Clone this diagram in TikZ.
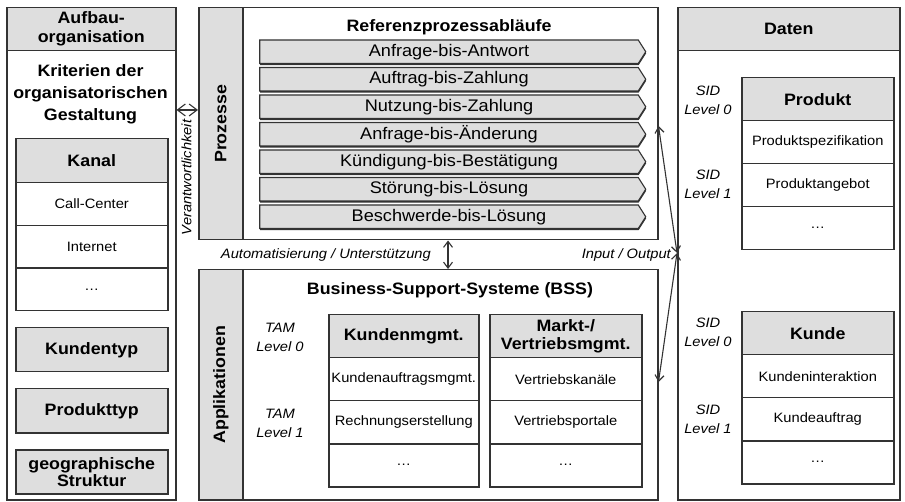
\documentclass[tikz,border=0pt]{standalone}
\usepackage{fontspec}
\setmainfont{Liberation Sans}[FakeStretch=1.08]
\usetikzlibrary{arrows.meta,shapes.symbols,shadows}
\definecolor{hd}{HTML}{DEDEDE}
\definecolor{ln}{HTML}{333333}
\newcommand\fBig{\fontsize{16.5}{20}\selectfont\bfseries}
\newcommand\fBar{\fontsize{16.8}{20}\selectfont}
\newcommand\fSm{\fontsize{13.6}{16}\selectfont}
\newcommand\fIt{\fontsize{13.6}{19}\selectfont\itshape}
\tikzset{
  box/.style={draw=ln, line width=1.5pt, inner sep=0pt, anchor=north west, align=center},
  hbox/.style={box, fill=hd, font=\fBig},
  cell/.style={box, fill=white, font=\fSm, minimum width=152pt, minimum height=43pt},
  hcell/.style={box, fill=hd, font=\fBig, minimum width=152pt, minimum height=43pt},
  bar/.style={shape=signal, signal to=east, signal from=nowhere, signal pointer angle=115,
    draw=ln, line width=1.1pt, fill=hd, minimum width=386pt, minimum height=23.5pt,
    inner sep=0pt, font=\fBar,
    drop shadow={shadow xshift=0.4pt, shadow yshift=-1.6pt, fill=ln, opacity=1}},
  lbl/.style={font=\fIt, align=center, inner sep=1pt},
  dbl/.style={{Straight Barb[length=6pt,width=9pt]}-{Straight Barb[length=6pt,width=9pt]}, line width=1.1pt, draw=ln},
  dia/.style={{Straight Barb[length=8pt,width=12pt]}-{Straight Barb[length=8pt,width=12pt]}, line width=1.1pt, draw=ln}
}
\begin{document}
\begin{tikzpicture}[x=1pt,y=-1pt]
\useasboundingbox (0,0) rectangle (905,502);
% ---------- left column ----------
\node[box, minimum width=169pt, minimum height=492pt] (lbox) at (6,7) {};
\node[hbox, minimum width=169pt, minimum height=43pt] (lhd) at (6,7) {Aufbau-\\[-1pt]organisation};
\node[font=\fBig, align=center, inner sep=0pt] (krit) at (90.5,94) {Kriterien der\\[2pt]organisatorischen\\[2pt]Gestaltung};
\node[hcell, minimum height=44pt] (kanal) at (15,138) {Kanal};
\node[cell, minimum height=42.67pt] (k1) at (15,182) {Call-Center};
\node[cell, minimum height=42.67pt] (k2) at (15,224.67) {Internet};
\node[cell, minimum height=42.67pt] (k3) at (15,267.33) {…};
\node[hcell, minimum height=44pt] (ktyp) at (15,327) {Kundentyp};
\node[hcell, minimum height=44pt] (ptyp) at (15,388) {Produkttyp};
\node[hcell, minimum height=44pt, font=\fBig\linespread{0.85}\selectfont] (geo) at (15,449) {geographische\\Struktur};
% ---------- Prozesse ----------
\node[box, minimum width=459pt, minimum height=232pt] (prz) at (198,7) {};
\node[hbox, minimum width=44pt, minimum height=232pt] (przl) at (198,7) {};
\node[font=\fBig, rotate=90] (przt) at (przl.center) {Prozesse};
\node[font=\fBig] (ref) at (449,27) {Referenzprozessabläufe};
\node[bar] (b1) at (449,51.75) {Anfrage-bis-Antwort};
\node[bar] (b2) at (449,79.25) {Auftrag-bis-Zahlung};
\node[bar] (b3) at (449,106.75) {Nutzung-bis-Zahlung};
\node[bar] (b4) at (449,134.25) {Anfrage-bis-Änderung};
\node[bar] (b5) at (449,161.75) {Kündigung-bis-Bestätigung};
\node[bar] (b6) at (449,189.25) {Störung-bis-Lösung};
\node[bar] (b7) at (449,216.75) {Beschwerde-bis-Lösung};
% ---------- Applikationen ----------
\node[box, minimum width=459pt, minimum height=230pt] (app) at (198,269) {};
\node[hbox, minimum width=44pt, minimum height=230pt] (appl) at (198,269) {};
\node[font=\fBig, rotate=90] (appt) at (appl.center) {Applikationen};
\node[font=\fBig] (bss) at (450,290) {Business-Support-Systeme (BSS)};
\node[lbl] (tam0) at (280,337) {TAM\\Level 0};
\node[lbl] (tam1) at (280,423) {TAM\\Level 1};
\node[hcell, minimum width=150pt] (km) at (328,314) {Kundenmgmt.};
\node[cell, minimum width=150pt] (km1) at (328,357) {Kundenauftragsmgmt.};
\node[cell, minimum width=150pt] (km2) at (328,400) {Rechnungserstellung};
\node[cell, minimum width=150pt] (km3) at (328,443) {…};
\node[hcell, font=\fBig\linespread{0.9}\selectfont] (mv) at (489,314) {Markt-/\\Vertriebsmgmt.};
\node[cell] (mv1) at (489,357) {Vertriebskanäle};
\node[cell] (mv2) at (489,400) {Vertriebsportale};
\node[cell] (mv3) at (489,443) {…};
% ---------- Daten ----------
\node[box, minimum width=222pt, minimum height=492pt] (dat) at (677,7) {};
\node[hbox, minimum width=222pt, minimum height=43pt] (dhd) at (677,7) {Daten};
\node[lbl] (sid0a) at (708,100) {SID\\Level 0};
\node[lbl] (sid1a) at (708,184) {SID\\Level 1};
\node[hcell] (prd) at (741,77) {Produkt};
\node[cell] (prd1) at (741,120) {Produktspezifikation};
\node[cell] (prd2) at (741,163) {Produktangebot};
\node[cell] (prd3) at (741,206) {…};
\node[lbl] (sid0b) at (708,332) {SID\\Level 0};
\node[lbl] (sid1b) at (708,419) {SID\\Level 1};
\node[hcell] (knd) at (741,311) {Kunde};
\node[cell] (knd1) at (741,354) {Kundeninteraktion};
\node[cell] (knd2) at (741,397) {Kundeauftrag};
\node[cell] (knd3) at (741,440) {…};
% ---------- connectors ----------
\coordinate (vy) at (186,110);
\draw[dia] (vy -| lbox.east) -- (vy -| prz.west);
\node[lbl, rotate=90] (ver) at (186.5,177.5) {Verantwortlichkeit};
\coordinate (ax) at (448,254);
\draw[dbl] (ax |- prz.south) -- (ax |- app.north);
\node[lbl, anchor=east] (auto) at (432,255) {Automatisierung / Unterstützung};
\coordinate (jy) at (0,253);
\coordinate (j) at (jy -| dat.west);
\coordinate (ty) at (0,126);
\coordinate (by) at (0,382);
\draw[dbl] (ty -| prz.east) -- (j);
\draw[dbl] (j) -- (by -| app.east);
\node[lbl, anchor=east] (io) at (672,255) {Input / Output};
\end{tikzpicture}
\end{document}
